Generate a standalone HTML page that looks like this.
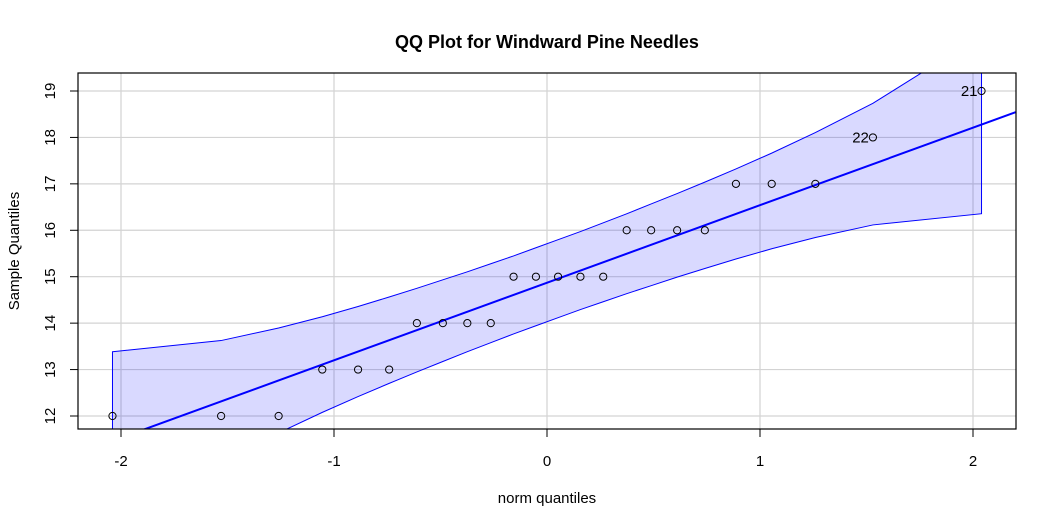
<!DOCTYPE html>
<html><head><meta charset="utf-8"><style>
body{margin:0;background:#fff}
svg{display:block;font-family:"Liberation Sans",Arial,sans-serif}
</style></head><body>
<svg id="chart" width="1056" height="528">
<defs><clipPath id="clip"><rect x="78" y="73" width="938" height="356"/></clipPath></defs>
<text x="547" y="48" text-anchor="middle" font-weight="bold" font-size="18">QQ Plot for Windward Pine Needles</text>
<text x="547" y="503" text-anchor="middle" font-size="15">norm quantiles</text>
<text transform="translate(19,251) rotate(-90)" text-anchor="middle" font-size="15">Sample Quantiles</text>
<g id="grid"></g><g id="band" clip-path="url(#clip)"></g><g id="marks"></g>
<rect x="78" y="73" width="938" height="356" fill="none" stroke="#000" stroke-width="1.2"/>
<g id="axes"></g>
</svg>
<script>
const xq = [-2.04,-1.53,-1.26,-1.055,-0.887,-0.741,-0.611,-0.489,-0.374,-0.264,-0.157,-0.052,0.052,0.157,0.264,0.374,0.489,0.611,0.741,0.887,1.055,1.26,1.53,2.04];
const yv = [12,12,12,13,13,13,14,14,14,14,15,15,15,15,15,16,16,16,16,17,17,17,18,19];
const bandHalf = [1.92,1.31,1.13,1.03,0.97,0.93,0.90,0.88,0.86,0.85,0.84,0.84,0.84,0.84,0.85,0.86,0.88,0.90,0.93,0.97,1.03,1.13,1.31,1.92];
const lineIntercept = 14.87, lineSlope = 1.67;
const xTicks = [-2,-1,0,1,2];
const yTicks = [12,13,14,15,16,17,18,19];
const labeled = [[23,"21"],[22,"22"]];
const sx = v => 547 + v*213;
const sy = v => 416 - (v-12)*46.43;
const NS="http://www.w3.org/2000/svg";
function mk(tag,attrs,parent){const e=document.createElementNS(NS,tag);for(const k in attrs)e.setAttribute(k,attrs[k]);document.getElementById(parent).appendChild(e);return e;}
xTicks.forEach(t=>{
 const g=mk('line',{x1:sx(t),x2:sx(t),y1:73,y2:429,stroke:'#d3d3d3','stroke-width':1.2},'grid');
 
 
 const k=mk('line',{x1:sx(t),x2:sx(t),y1:429,y2:437,stroke:'#000'},'axes');
 
 
 const l=mk('text',{x:sx(t),y:466,'text-anchor':'middle','font-size':15},'axes');l.textContent=t;
 
 
});
yTicks.forEach(t=>{
 const g=mk('line',{x1:78,x2:1016,y1:sy(t),y2:sy(t),stroke:'#d3d3d3','stroke-width':1.2},'grid');
 
 
 const k=mk('line',{x1:70,x2:78,y1:sy(t),y2:sy(t),stroke:'#000'},'axes');
 
 
 const l=mk('text',{transform:`translate(55,${sy(t)}) rotate(-90)`,'text-anchor':'middle','font-size':15},'axes');l.textContent=t;
 
 
});
const fit = x => lineIntercept + lineSlope*x;
const up = xq.map((x,i)=>[sx(x),sy(fit(x)+bandHalf[i])]);
const lo = xq.map((x,i)=>[sx(x),sy(fit(x)-bandHalf[i])]).reverse();
const poly=mk('polygon',{points:up.concat(lo).map(p=>p.join(',')).join(' '),fill:'rgba(0,0,255,0.15)',stroke:'#0000ff','stroke-width':1},'band');


const ln=mk('line',{x1:sx(-2.2),y1:sy(fit(-2.2)),x2:sx(2.2),y2:sy(fit(2.2)),stroke:'#0000ff','stroke-width':2},'band');


xq.forEach((x,i)=>{
 const c=mk('circle',{cx:sx(x),cy:sy(yv[i]),r:3.6,fill:'none',stroke:'#000','stroke-width':1},'marks');
 
 
});
labeled.forEach(([i,txt])=>{
 const t=mk('text',{x:sx(xq[i])-4,y:sy(yv[i])+5,'text-anchor':'end','font-size':15},'marks');t.textContent=txt;
 
 
});
</script>
</body></html>
